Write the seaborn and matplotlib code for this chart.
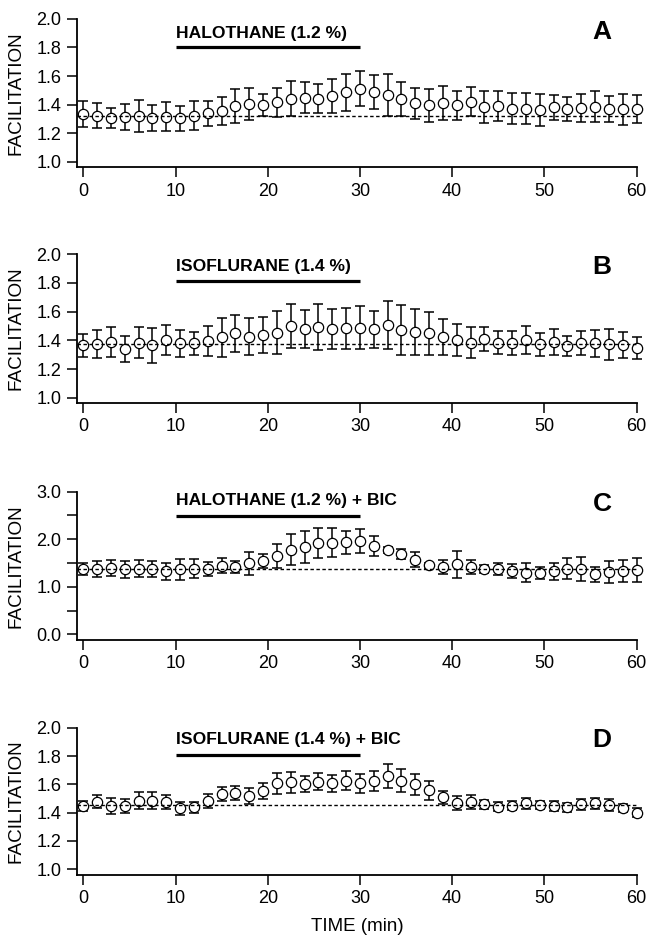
import numpy as np
import matplotlib
matplotlib.use("Agg")
import matplotlib.pyplot as plt
import seaborn as sns

# temps (min)
time_min = [0, 1.5, 3, 4.5, 6, 7.5, 9, 10.5, 12, 13.5, 15, 16.5, 18, 19.5, 21, 22.5,
            24, 25.5, 27, 28.5, 30, 31.5, 33, 34.5, 36, 37.5, 39, 40.5, 42, 43.5,
            45, 46.5, 48, 49.5, 51, 52.5, 54, 55.5, 57, 58.5, 60]

# A - halothane
fac_a = [1.334, 1.322, 1.304, 1.311, 1.320, 1.304, 1.315, 1.304, 1.322, 1.339, 1.355,
         1.390, 1.404, 1.397, 1.416, 1.442, 1.449, 1.442, 1.460, 1.486, 1.512, 1.486,
         1.467, 1.439, 1.409, 1.395, 1.409, 1.395, 1.421, 1.383, 1.390, 1.371, 1.371,
         1.362, 1.381, 1.367, 1.374, 1.386, 1.371, 1.367, 1.367]
err_a = [0.09, 0.088, 0.07, 0.09, 0.11, 0.09, 0.10, 0.087, 0.10, 0.087, 0.10, 0.12,
         0.115, 0.076, 0.10, 0.12, 0.11, 0.10, 0.12, 0.13, 0.12, 0.12, 0.15, 0.12,
         0.11, 0.117, 0.12, 0.10, 0.10, 0.11, 0.105, 0.11, 0.11, 0.115, 0.088, 0.085,
         0.10, 0.107, 0.09, 0.108, 0.098]

# B - isoflurane
fac_b = [1.367, 1.374, 1.391, 1.340, 1.384, 1.365, 1.402, 1.379, 1.379, 1.395, 1.421,
         1.449, 1.426, 1.437, 1.453, 1.500, 1.479, 1.491, 1.479, 1.484, 1.488, 1.477,
         1.507, 1.472, 1.458, 1.449, 1.421, 1.402, 1.384, 1.409, 1.384, 1.384, 1.402,
         1.372, 1.391, 1.360, 1.379, 1.379, 1.372, 1.367, 1.344]
err_b = [0.08, 0.10, 0.105, 0.09, 0.11, 0.124, 0.105, 0.093, 0.08, 0.105, 0.134, 0.128,
         0.13, 0.125, 0.15, 0.15, 0.13, 0.16, 0.14, 0.145, 0.15, 0.13, 0.17, 0.175,
         0.16, 0.15, 0.125, 0.11, 0.11, 0.085, 0.08, 0.083, 0.095, 0.08, 0.09, 0.072,
         0.083, 0.093, 0.11, 0.092, 0.077]

# C - halothane + BIC
fac_c = [1.37, 1.38, 1.40, 1.37, 1.38, 1.37, 1.33, 1.37, 1.38, 1.38, 1.44, 1.42, 1.49,
         1.54, 1.64, 1.78, 1.84, 1.92, 1.93, 1.94, 1.97, 1.86, 1.78, 1.69, 1.57, 1.45,
         1.42, 1.47, 1.42, 1.37, 1.37, 1.33, 1.30, 1.29, 1.33, 1.38, 1.38, 1.26, 1.31,
         1.33, 1.36]
err_c = [0.13, 0.17, 0.17, 0.18, 0.18, 0.17, 0.18, 0.22, 0.20, 0.15, 0.16, 0.13, 0.25,
         0.15, 0.25, 0.32, 0.34, 0.31, 0.30, 0.24, 0.25, 0.21, 0.06, 0.11, 0.16, 0.05,
         0.15, 0.28, 0.15, 0.08, 0.12, 0.14, 0.19, 0.12, 0.18, 0.22, 0.25, 0.16, 0.23,
         0.24, 0.25]

# D - isoflurane + BIC
fac_d = [1.449, 1.478, 1.449, 1.447, 1.485, 1.485, 1.473, 1.431, 1.438, 1.482, 1.532,
         1.541, 1.518, 1.555, 1.607, 1.614, 1.600, 1.619, 1.607, 1.626, 1.607, 1.626,
         1.659, 1.626, 1.600, 1.560, 1.508, 1.466, 1.473, 1.459, 1.442, 1.449, 1.466,
         1.454, 1.447, 1.438, 1.459, 1.466, 1.454, 1.431, 1.400]
err_d = [0.035, 0.047, 0.055, 0.052, 0.058, 0.06, 0.05, 0.045, 0.04, 0.048, 0.05, 0.05,
         0.054, 0.055, 0.073, 0.072, 0.056, 0.061, 0.06, 0.065, 0.068, 0.07, 0.082,
         0.082, 0.074, 0.067, 0.045, 0.05, 0.05, 0.033, 0.033, 0.03, 0.04, 0.03, 0.038,
         0.03, 0.039, 0.041, 0.044, 0.028, 0.033]

baselines = [1.32, 1.372, 1.37, 1.454]
drug_labels = ["HALOTHANE (1.2 %)", "ISOFLURANE (1.4 %)",
               "HALOTHANE (1.2 %) + BIC", "ISOFLURANE (1.4 %) + BIC"]
panel_letters = ["A", "B", "C", "D"]
drug_start, drug_end = 10, 30

sns.set_style("ticks")
plt.rcParams['font.family'] = ['Liberation Sans', 'DejaVu Sans']
plt.rcParams['text.color'] = 'black'
plt.rcParams['axes.labelcolor'] = 'black'

fig = plt.figure(figsize=(6.47, 9.35), dpi=100)

# positions des panneaux (fraction de la figure)
bottoms = [0.8211, 0.5693, 0.3155, 0.0642]
heights = [0.1586, 0.1587, 0.1586, 0.1575]
ylims = [(0.96, 2.0), (0.965, 2.0), (-0.12, 3.0), (0.96, 2.0)]
text_y = [0.904, 0.916, 0.944, 0.921]
bar_y = [0.809, 0.820, 0.838, 0.815]

series = [(fac_a, err_a), (fac_b, err_b), (fac_c, err_c), (fac_d, err_d)]

for i, (vals, errs) in enumerate(series):
    ax = fig.add_axes([0.1185, bottoms[i], 0.866, heights[i]])

    ax.errorbar(time_min, vals, yerr=errs, fmt='none', ecolor='black',
                elinewidth=1.1, capsize=3.6, capthick=1.1, zorder=2, clip_on=False)
    sns.scatterplot(x=time_min, y=vals, ax=ax, marker='o', s=55,
                    facecolor='white', edgecolor='black', linewidth=0.9, zorder=3,
                    clip_on=False)
    ax.axhline(baselines[i], color='black', lw=1.0, ls=(0, (2.5, 1.8)), zorder=4)

    # barre de la drogue
    trans = ax.get_xaxis_transform()
    ax.plot([drug_start, drug_end], [bar_y[i], bar_y[i]], color='black', lw=2.3,
            transform=trans, solid_capstyle='butt', clip_on=False)
    ax.text(drug_start, text_y[i], drug_labels[i], transform=trans, ha='left',
            va='center', fontsize=12.6, fontweight='bold')
    ax.text(0.9375, 0.915, panel_letters[i], transform=ax.transAxes, ha='center',
            va='center', fontsize=19, fontweight='bold')

    ax.set_xlim(-0.72, 60.05)
    ax.set_ylim(*ylims[i])
    ax.set_xticks([0, 10, 20, 30, 40, 50, 60])
    if i == 2:
        ax.set_yticks([0.0, 1.0, 2.0, 3.0])
        ax.set_yticks([0.5, 1.5, 2.5], minor=True)
    else:
        ax.set_yticks([1.0, 1.2, 1.4, 1.6, 1.8, 2.0])
    ax.yaxis.set_major_formatter(matplotlib.ticker.FormatStrFormatter('%.1f'))
    ax.tick_params(axis='both', which='both', direction='out', length=7, width=1.1,
                   labelsize=13, pad=4, color='black', labelcolor='black')

    for side in ['top', 'right']:
        ax.spines[side].set_visible(False)
    for side in ['left', 'bottom']:
        ax.spines[side].set_linewidth(1.3)
        ax.spines[side].set_color('black')

    ax.set_ylabel("FACILITATION", fontsize=13.6)
    ax.yaxis.set_label_coords(-0.093, 0.5)
    if i == 3:
        ax.set_xlabel("TIME (min)", fontsize=13.5, labelpad=8)

fig.savefig("out.png", dpi=100)
